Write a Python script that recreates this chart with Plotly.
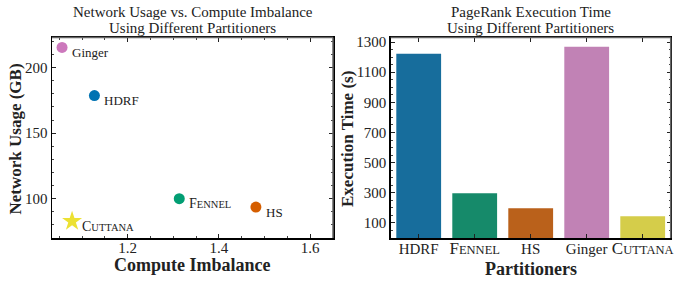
import plotly.graph_objects as go

# ---- data ----
partitioners = ["HDRF", "Fennel", "HS", "Ginger", "Cuttana"]
imbalance = [1.127, 1.313, 1.481, 1.056, 1.078]
network_gb = [178.7, 100.0, 93.6, 215.4, 82.7]
exec_time = [1222, 297, 197, 1269, 144]

scatter_colors = ["#0173B2", "#029E73", "#D55E00", "#CC78BC", "#ECE133"]
bar_colors = ["#176d9c", "#168a6a", "#ba611b", "#c182b5", "#d5cd4a"]
symbols = ["circle", "circle", "circle", "circle", "star"]

def smallcaps(name, big, small):
    if name in ("Fennel", "Cuttana"):
        return (f"<span style='font-size:{big}px'>{name[0]}</span>"
                f"<span style='font-size:{small}px'>{name[1:].upper()}</span>")
    return name

FONT = "Liberation Serif"
TXT = "#222222"
W, H = 674, 282

def px_x(p):
    return p / W

def px_y(p):
    return 1 - p / H

fig = go.Figure()

# scatter
for i, name in enumerate(partitioners):
    fig.add_trace(go.Scatter(
        x=[imbalance[i]], y=[network_gb[i]], mode="markers",
        marker=dict(color=scatter_colors[i], symbol=symbols[i],
                    size=15 if symbols[i] == "star" else 11, line=dict(width=0)),
        xaxis="x", yaxis="y", showlegend=False, cliponaxis=False, hoverinfo="skip"))
    fig.add_annotation(
        x=imbalance[i], y=network_gb[i], xref="x", yref="y",
        text=smallcaps(name, 14, 10.5), showarrow=False,
        xanchor="left", yanchor="middle", xshift=8, yshift=-5,
        font=dict(family=FONT, size=13, color=TXT))

# bars
fig.add_trace(go.Bar(
    x=list(range(len(partitioners))), y=exec_time,
    marker=dict(color=bar_colors, line=dict(width=0)),
    width=0.8, xaxis="x2", yaxis="y2", showlegend=False, hoverinfo="skip"))

ydom = [px_y(238), px_y(37.5)]
common = dict(showline=True, linecolor="black", linewidth=1.5, mirror="ticks",
              ticks="inside", ticklen=4, tickwidth=1, tickcolor="#222",
              showgrid=False, zeroline=False, automargin=False,
              tickfont=dict(family=FONT, size=15, color=TXT))

fig.update_layout(
    width=W, height=H, margin=dict(l=0, r=0, t=0, b=0, autoexpand=False),
    paper_bgcolor="white", plot_bgcolor="white",
    xaxis=dict(domain=[px_x(52), px_x(333)], range=[1.034, 1.65],
               tick0=0, dtick=0.2, tickformat=".1f", anchor="y",
               ticklabelstandoff=-5,
               minor=dict(dtick=0.05, ticks="inside", ticklen=2, tickcolor="#444"),
               **common),
    yaxis=dict(domain=ydom, range=[70, 223], tick0=0, dtick=50, anchor="x",
               minor=dict(dtick=10, ticks="inside", ticklen=2, tickcolor="#444"),
               **common),
    xaxis2=dict(domain=[px_x(390.7), px_x(670.7)], range=[-0.5, 4.5], anchor="y2",
                tickmode="array", tickvals=list(range(len(partitioners))),
                ticktext=[smallcaps(p, 17, 12.5) for p in partitioners],
                ticklabelstandoff=-4,
                **common),
    yaxis2=dict(domain=ydom, range=[0, 1330], tick0=100, dtick=200, anchor="x2",
                minor=dict(dtick=50, ticks="inside", ticklen=2, tickcolor="#444"),
                **common),
)

# top/right spines lighter
for xr, yr in (("x domain", "y domain"), ("x2 domain", "y2 domain")):
    fig.add_shape(type="line", xref=xr, yref=yr, x0=0, x1=1, y0=1, y1=1,
                  line=dict(color="#666", width=1.5))
    fig.add_shape(type="line", xref=xr, yref=yr, x0=1, x1=1, y0=0, y1=1,
                  line=dict(color="#666", width=1.5))

# titles (two lines each)
titles = [("Network Usage vs. Compute Imbalance", "Using Different Partitioners", 192.5),
          ("PageRank Execution Time", "Using Different Partitioners", 530.7)]
for l1, l2, cx in titles:
    for txt, cy in ((l1, 12), (l2, 28)):
        fig.add_annotation(x=px_x(cx), y=px_y(cy), xref="paper", yref="paper",
                           text=txt, showarrow=False, xanchor="center", yanchor="middle",
                           font=dict(family=FONT, size=15, color=TXT))

# axis titles
fig.add_annotation(x=px_x(192.5), y=px_y(265), xref="paper", yref="paper",
                   text="<b>Compute Imbalance</b>", showarrow=False,
                   xanchor="center", yanchor="middle",
                   font=dict(family=FONT, size=18, color=TXT))
fig.add_annotation(x=px_x(530.7), y=px_y(269), xref="paper", yref="paper",
                   text="<b>Partitioners</b>", showarrow=False,
                   xanchor="center", yanchor="middle",
                   font=dict(family=FONT, size=18, color=TXT))
fig.add_annotation(x=px_x(15), y=px_y(139.5), xref="paper", yref="paper",
                   text="<b>Network Usage (GB)</b>", showarrow=False, textangle=-90,
                   xanchor="center", yanchor="middle",
                   font=dict(family=FONT, size=17, color=TXT))
fig.add_annotation(x=px_x(347), y=px_y(139), xref="paper", yref="paper",
                   text="<b>Execution Time (s)</b>", showarrow=False, textangle=-90,
                   xanchor="center", yanchor="middle",
                   font=dict(family=FONT, size=17, color=TXT))

fig.write_html("out.html",
               config={"displayModeBar": False, "staticPlot": True},
               post_script="document.body.style.margin='0';document.body.style.overflow='hidden';")
